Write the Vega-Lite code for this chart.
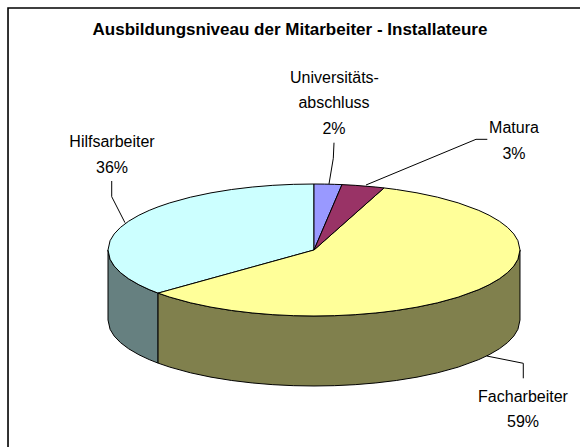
{"$schema":"https://vega.github.io/schema/vega-lite/v6.json","width":580,"height":447,"padding":0,"autosize":"none","background":"white","view":{"stroke":null},
"title":{"text":"Ausbildungsniveau der Mitarbeiter - Installateure","anchor":"middle","offset":-39,"font":"Liberation Sans","fontSize":17,"fontWeight":"bold","color":"black"},
"datasets":{
"parts":[
{"part":"Hilfsarbeiter Seite","x":-1,"y":0,"y2":-1.0606},{"part":"Hilfsarbeiter Seite","x":-0.99,"y":-0.1411,"y2":-1.2017},{"part":"Hilfsarbeiter Seite","x":-0.97,"y":-0.2431,"y2":-1.3037},{"part":"Hilfsarbeiter Seite","x":-0.94,"y":-0.3412,"y2":-1.4018},{"part":"Hilfsarbeiter Seite","x":-0.9,"y":-0.4359,"y2":-1.4965},{"part":"Hilfsarbeiter Seite","x":-0.85,"y":-0.5268,"y2":-1.5874},{"part":"Hilfsarbeiter Seite","x":-0.8,"y":-0.6,"y2":-1.6606},{"part":"Hilfsarbeiter Seite","x":-0.757,"y":-0.6534,"y2":-1.714},
{"part":"Facharbeiter Seite","x":-0.757,"y":-0.6534,"y2":-1.714},{"part":"Facharbeiter Seite","x":-0.7,"y":-0.7141,"y2":-1.7747},{"part":"Facharbeiter Seite","x":-0.6,"y":-0.8,"y2":-1.8606},{"part":"Facharbeiter Seite","x":-0.5,"y":-0.866,"y2":-1.9266},{"part":"Facharbeiter Seite","x":-0.4,"y":-0.9165,"y2":-1.9771},{"part":"Facharbeiter Seite","x":-0.3,"y":-0.9539,"y2":-2.0145},{"part":"Facharbeiter Seite","x":-0.2,"y":-0.9798,"y2":-2.0404},{"part":"Facharbeiter Seite","x":-0.1,"y":-0.995,"y2":-2.0556},{"part":"Facharbeiter Seite","x":0,"y":-1,"y2":-2.0606},{"part":"Facharbeiter Seite","x":0.1,"y":-0.995,"y2":-2.0556},{"part":"Facharbeiter Seite","x":0.2,"y":-0.9798,"y2":-2.0404},{"part":"Facharbeiter Seite","x":0.3,"y":-0.9539,"y2":-2.0145},{"part":"Facharbeiter Seite","x":0.4,"y":-0.9165,"y2":-1.9771},{"part":"Facharbeiter Seite","x":0.5,"y":-0.866,"y2":-1.9266},{"part":"Facharbeiter Seite","x":0.6,"y":-0.8,"y2":-1.8606},{"part":"Facharbeiter Seite","x":0.7,"y":-0.7141,"y2":-1.7747},{"part":"Facharbeiter Seite","x":0.8,"y":-0.6,"y2":-1.6606},{"part":"Facharbeiter Seite","x":0.85,"y":-0.5268,"y2":-1.5874},{"part":"Facharbeiter Seite","x":0.9,"y":-0.4359,"y2":-1.4965},{"part":"Facharbeiter Seite","x":0.94,"y":-0.3412,"y2":-1.4018},{"part":"Facharbeiter Seite","x":0.97,"y":-0.2431,"y2":-1.3037},{"part":"Facharbeiter Seite","x":0.99,"y":-0.1411,"y2":-1.2017},{"part":"Facharbeiter Seite","x":1,"y":0,"y2":-1.0606},
{"part":"Hilfsarbeiter","x":-1,"y":0,"y2":0},{"part":"Hilfsarbeiter","x":-0.99,"y":0.1411,"y2":-0.1411},{"part":"Hilfsarbeiter","x":-0.97,"y":0.2431,"y2":-0.2431},{"part":"Hilfsarbeiter","x":-0.94,"y":0.3412,"y2":-0.3412},{"part":"Hilfsarbeiter","x":-0.9,"y":0.4359,"y2":-0.4359},{"part":"Hilfsarbeiter","x":-0.85,"y":0.5268,"y2":-0.5268},{"part":"Hilfsarbeiter","x":-0.8,"y":0.6,"y2":-0.6},{"part":"Hilfsarbeiter","x":-0.757,"y":0.6534,"y2":-0.6534},{"part":"Hilfsarbeiter","x":-0.7,"y":0.7141,"y2":-0.6042},{"part":"Hilfsarbeiter","x":-0.6,"y":0.8,"y2":-0.5179},{"part":"Hilfsarbeiter","x":-0.5,"y":0.866,"y2":-0.4316},{"part":"Hilfsarbeiter","x":-0.4,"y":0.9165,"y2":-0.3453},{"part":"Hilfsarbeiter","x":-0.3,"y":0.9539,"y2":-0.259},{"part":"Hilfsarbeiter","x":-0.2,"y":0.9798,"y2":-0.1726},{"part":"Hilfsarbeiter","x":-0.1,"y":0.995,"y2":-0.0863},{"part":"Hilfsarbeiter","x":0,"y":1,"y2":0},
{"part":"Facharbeiter","x":-0.757,"y":-0.6534,"y2":-0.6534},{"part":"Facharbeiter","x":-0.7,"y":-0.6042,"y2":-0.7141},{"part":"Facharbeiter","x":-0.6,"y":-0.5179,"y2":-0.8},{"part":"Facharbeiter","x":-0.5,"y":-0.4316,"y2":-0.866},{"part":"Facharbeiter","x":-0.4,"y":-0.3453,"y2":-0.9165},{"part":"Facharbeiter","x":-0.3,"y":-0.259,"y2":-0.9539},{"part":"Facharbeiter","x":-0.2,"y":-0.1726,"y2":-0.9798},{"part":"Facharbeiter","x":-0.1,"y":-0.0863,"y2":-0.995},{"part":"Facharbeiter","x":0,"y":0,"y2":-1},{"part":"Facharbeiter","x":0.1,"y":0.2766,"y2":-0.995},{"part":"Facharbeiter","x":0.2,"y":0.5532,"y2":-0.9798},{"part":"Facharbeiter","x":0.3,"y":0.8298,"y2":-0.9539},{"part":"Facharbeiter","x":0.34,"y":0.9404,"y2":-0.9404},{"part":"Facharbeiter","x":0.4,"y":0.9165,"y2":-0.9165},{"part":"Facharbeiter","x":0.5,"y":0.866,"y2":-0.866},{"part":"Facharbeiter","x":0.6,"y":0.8,"y2":-0.8},{"part":"Facharbeiter","x":0.7,"y":0.7141,"y2":-0.7141},{"part":"Facharbeiter","x":0.8,"y":0.6,"y2":-0.6},{"part":"Facharbeiter","x":0.85,"y":0.5268,"y2":-0.5268},{"part":"Facharbeiter","x":0.9,"y":0.4359,"y2":-0.4359},{"part":"Facharbeiter","x":0.94,"y":0.3412,"y2":-0.3412},{"part":"Facharbeiter","x":0.97,"y":0.2431,"y2":-0.2431},{"part":"Facharbeiter","x":0.99,"y":0.1411,"y2":-0.1411},{"part":"Facharbeiter","x":1,"y":0,"y2":0},
{"part":"Universitätsabschluss","x":0,"y":1,"y2":0},{"part":"Universitätsabschluss","x":0.05,"y":0.9987,"y2":0.3642},{"part":"Universitätsabschluss","x":0.1,"y":0.995,"y2":0.7285},{"part":"Universitätsabschluss","x":0.136,"y":0.9907,"y2":0.9907},
{"part":"Matura","x":0,"y":0,"y2":0},{"part":"Matura","x":0.05,"y":0.3642,"y2":0.1383},{"part":"Matura","x":0.1,"y":0.7285,"y2":0.2766},{"part":"Matura","x":0.136,"y":0.9907,"y2":0.3762},{"part":"Matura","x":0.2,"y":0.9798,"y2":0.5532},{"part":"Matura","x":0.3,"y":0.9539,"y2":0.8298},{"part":"Matura","x":0.34,"y":0.9404,"y2":0.9404}
],
"frame":[
{"name":"Rahmen","k":1,"x":-1.4854,"y":-2.985},{"name":"Rahmen","k":2,"x":-1.4854,"y":3.667},{"name":"Rahmen","k":3,"x":1.2913,"y":3.667}
],
"leaders":[
{"name":"Universitätsabschluss","k":1,"x":0.0971,"y":1.6258},{"name":"Universitätsabschluss","k":2,"x":0.0937,"y":1.3894},{"name":"Universitätsabschluss","k":3,"x":0.0728,"y":1.0},
{"name":"Matura","k":1,"x":0.8413,"y":1.677},{"name":"Matura","k":2,"x":0.7864,"y":1.677},{"name":"Matura","k":3,"x":0.2524,"y":0.9848},
{"name":"Hilfsarbeiter","k":1,"x":-0.982,"y":1.0455},{"name":"Hilfsarbeiter","k":2,"x":-0.982,"y":0.8076},{"name":"Hilfsarbeiter","k":3,"x":-0.9175,"y":0.4136},
{"name":"Facharbeiter","k":1,"x":1.016,"y":-1.944},{"name":"Facharbeiter","k":2,"x":1.016,"y":-1.7167},{"name":"Facharbeiter","k":3,"x":0.8383,"y":-1.606}
],
"labels":[
{"line":"Universitäts-","x":0.0995,"y":2.5303},{"line":"abschluss","x":0.0971,"y":2.1515},{"line":"2%","x":0.0971,"y":1.7576},
{"line":"Hilfsarbeiter","x":-0.9806,"y":1.5606},{"line":"36%","x":-0.9806,"y":1.1727},
{"line":"Matura","x":0.9709,"y":1.7727},{"line":"3%","x":0.9709,"y":1.3788},
{"line":"Facharbeiter","x":1.0146,"y":-2.303},{"line":"59%","x":1.0146,"y":-2.6818}
]},
"layer":[
{"data":{"name":"parts"},"mark":{"type":"area","stroke":"black","strokeWidth":1,"opacity":1},
"encoding":{"x":{"field":"x","type":"quantitative","scale":{"domain":[-1.5243,1.2913],"nice":false,"zero":false},"axis":null},
"y":{"field":"y","type":"quantitative","stack":null,"scale":{"domain":[-2.985,3.788],"nice":false,"zero":false},"axis":null},
"y2":{"field":"y2"},
"color":{"field":"part","type":"nominal","legend":null,"scale":{"domain":["Hilfsarbeiter Seite","Facharbeiter Seite","Hilfsarbeiter","Facharbeiter","Universitätsabschluss","Matura"],"range":["#668080","#80804D","#CCFFFF","#FFFF99","#9999FF","#993366"]}}}},
{"data":{"name":"frame"},"mark":{"type":"line","color":"black","strokeWidth":1.6},
"encoding":{"x":{"field":"x","type":"quantitative","sort":null},"y":{"field":"y","type":"quantitative"},"order":{"field":"k"}}},
{"data":{"name":"leaders"},"mark":{"type":"line","color":"black","strokeWidth":1},
"encoding":{"x":{"field":"x","type":"quantitative","sort":null},"y":{"field":"y","type":"quantitative"},"detail":{"field":"name"},"order":{"field":"k"}}},
{"data":{"name":"labels"},"mark":{"type":"text","font":"Liberation Sans","fontSize":16,"color":"black","align":"center","baseline":"alphabetic"},
"encoding":{"x":{"field":"x","type":"quantitative"},"y":{"field":"y","type":"quantitative"},"text":{"field":"line"}}}
]}
